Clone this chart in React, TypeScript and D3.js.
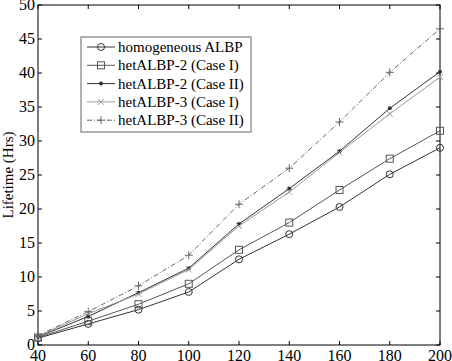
import React, { useRef, useEffect } from "react";
import * as d3 from "d3";

const nodes = [40, 60, 80, 100, 120, 140, 160, 180, 200];
const homogeneous = [1.0, 3.1, 5.2, 7.8, 12.6, 16.3, 20.3, 25.1, 29.0];
const het2Case1 = [1.1, 3.5, 6.0, 9.0, 14.0, 18.0, 22.8, 27.4, 31.5];
const het2Case2 = [1.2, 4.2, 7.7, 11.3, 17.8, 23.0, 28.5, 34.8, 40.2];
const het3Case1 = [1.3, 4.6, 7.5, 11.1, 17.5, 22.5, 28.3, 34.0, 39.4];
const het3Case2 = [1.4, 4.9, 8.7, 13.2, 20.7, 26.0, 32.8, 40.1, 46.5];
const xTicks = [40, 60, 80, 100, 120, 140, 160, 180, 200];
const yTicks = [0, 5, 10, 15, 20, 25, 30, 35, 40, 45, 50];

const seriesList = [
  { name: "homogeneous  ALBP", values: homogeneous, marker: "circle", color: "#333", dash: "" },
  { name: "hetALBP-2 (Case I)", values: het2Case1, marker: "square", color: "#555", dash: "" },
  { name: "hetALBP-2 (Case II)", values: het2Case2, marker: "star", color: "#333", dash: "" },
  { name: "hetALBP-3 (Case I)", values: het3Case1, marker: "x", color: "#999", dash: "" },
  { name: "hetALBP-3 (Case II)", values: het3Case2, marker: "plus", color: "#666", dash: "5,2,1,2" },
];

const drawMarker = (g: any, kind: string, x: number, y: number, color: string) => {
  if (kind === "circle") {
    g.append("circle").attr("cx", x).attr("cy", y).attr("r", 3.5)
      .attr("fill", "none").attr("stroke", color);
  } else if (kind === "square") {
    g.append("rect").attr("x", x - 3.5).attr("y", y - 3.5).attr("width", 7).attr("height", 7)
      .attr("fill", "none").attr("stroke", color);
  } else if (kind === "star") {
    g.append("circle").attr("cx", x).attr("cy", y).attr("r", 2).attr("fill", color);
  } else if (kind === "x") {
    g.append("path").attr("d", `M${x - 3},${y - 3}L${x + 3},${y + 3}M${x - 3},${y + 3}L${x + 3},${y - 3}`)
      .attr("stroke", color);
  } else {
    g.append("path").attr("d", `M${x - 4},${y}L${x + 4},${y}M${x},${y - 4}L${x},${y + 4}`)
      .attr("stroke", color);
  }
};

const Chart: React.FC = () => {
  const svgRef = useRef<SVGSVGElement>(null);

  useEffect(() => {
    if (!svgRef.current) return;
    const width = 452;
    const height = 361;
    const left = 38;
    const right = 440;
    const top = 5;
    const bottom = 345;

    const svg = d3.select(svgRef.current).attr("width", width).attr("height", height);
    svg.selectAll("*").remove();

    const x = d3.scaleLinear().domain([40, 200]).range([left, right]);
    const y = d3.scaleLinear().domain([0, 50]).range([bottom, top]);

    svg.append("rect").attr("width", width).attr("height", height).attr("fill", "#fff");

    const font = "'Liberation Serif', 'Times New Roman', serif";

    // ticks on all four sides, inward
    const tk = svg.append("g").attr("stroke", "#000").attr("stroke-width", 1);
    xTicks.forEach((t) => {
      tk.append("line").attr("x1", x(t)).attr("x2", x(t)).attr("y1", bottom).attr("y2", bottom - 4);
      tk.append("line").attr("x1", x(t)).attr("x2", x(t)).attr("y1", top).attr("y2", top + 4);
    });
    yTicks.forEach((t) => {
      tk.append("line").attr("x1", left).attr("x2", left + 4).attr("y1", y(t)).attr("y2", y(t));
      tk.append("line").attr("x1", right).attr("x2", right - 4).attr("y1", y(t)).attr("y2", y(t));
    });
    svg.append("rect").attr("x", left).attr("y", top).attr("width", right - left).attr("height", bottom - top)
      .attr("fill", "none").attr("stroke", "#000");

    svg.append("g").selectAll("text").data(xTicks).enter().append("text")
      .attr("x", (d) => x(d)).attr("y", bottom + 16).attr("text-anchor", "middle")
      .attr("font-family", font).attr("font-size", 16).text((d) => d);
    svg.append("g").selectAll("text").data(yTicks).enter().append("text")
      .attr("x", left - 3).attr("y", (d) => y(d) + 5).attr("text-anchor", "end")
      .attr("font-family", font).attr("font-size", 16).text((d) => d);

    svg.append("text").attr("transform", `translate(13,${(top + bottom) / 2}) rotate(-90)`)
      .attr("text-anchor", "middle").attr("font-family", font).attr("font-size", 15)
      .text("Lifetime (Hrs)");

    const line = d3.line<number>().x((_, i) => x(nodes[i])).y((d) => y(d));

    seriesList.forEach((s) => {
      const g = svg.append("g");
      g.append("path").attr("d", line(s.values)).attr("fill", "none").attr("stroke", s.color)
        .attr("stroke-width", 1).attr("stroke-dasharray", s.dash || null);
      s.values.forEach((v, i) => drawMarker(g, s.marker, x(nodes[i]), y(v), s.color));
    });

    // legend
    const lg = svg.append("g");
    lg.append("rect").attr("x", 81).attr("y", 37).attr("width", 170).attr("height", 95)
      .attr("fill", "#fff").attr("stroke", "#666");
    seriesList.forEach((s, i) => {
      const ly = 47 + i * 18.3;
      lg.append("line").attr("x1", 87).attr("x2", 115).attr("y1", ly).attr("y2", ly)
        .attr("stroke", s.color).attr("stroke-dasharray", s.dash || null);
      drawMarker(lg, s.marker, 101, ly, s.color);
      lg.append("text").attr("x", 118).attr("y", ly + 5).attr("font-family", font)
        .attr("font-size", 15).text(s.name);
    });
  }, []);

  return <svg ref={svgRef} style={{ position: "absolute", left: 0, top: 0 }}></svg>;
};

export default function App() {
  return <Chart />;
}
